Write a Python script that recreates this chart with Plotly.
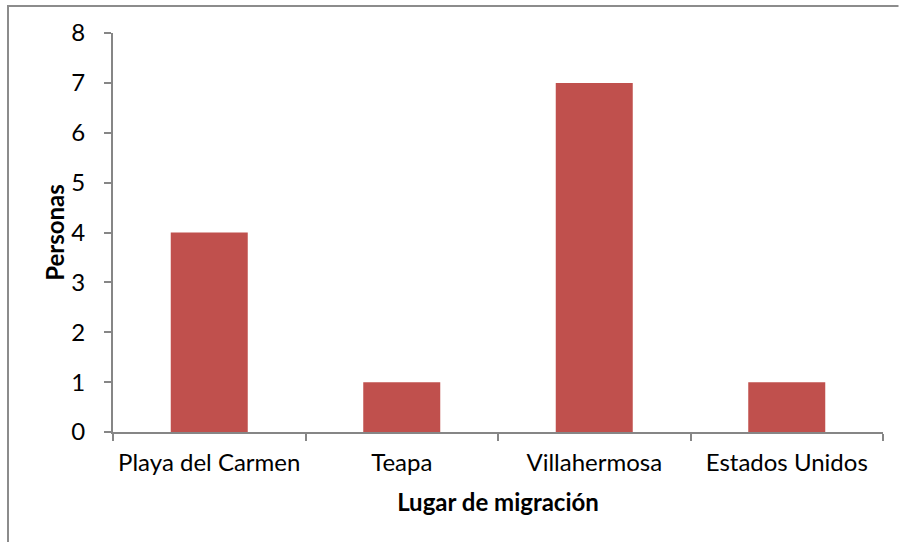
import plotly.graph_objects as go

# Migration destinations and number of people
lugares = ["Playa del Carmen", "Teapa", "Villahermosa", "Estados Unidos"]
personas = [4, 1, 7, 1]
y_ticks = [0, 1, 2, 3, 4, 5, 6, 7, 8]

W, H = 899, 542
L, R, T, B = 113, 16, 33, 110
pw, ph = W - L - R, H - T - B

def px_x(p):
    return (p - L) / pw

def px_y(p):
    return (H - B - p) / ph

axis_gray = "#868686"
frame_gray = "#8C8C8C"
font_fam = "Lato, 'Open Sans', sans-serif"

fig = go.Figure(
    go.Bar(
        x=lugares,
        y=personas,
        marker=dict(color="#C0504D", line=dict(width=0)),
        width=0.4,
    )
)

fig.update_layout(
    width=W,
    height=H,
    margin=dict(l=L, r=R, t=T, b=B),
    paper_bgcolor="white",
    plot_bgcolor="white",
    showlegend=False,
    font=dict(family=font_fam, color="black", size=24),
    shapes=[
        # chart frame: left edge
        dict(type="line", xref="paper", yref="paper",
             x0=px_x(8), x1=px_x(8), y0=px_y(6), y1=px_y(H),
             line=dict(color=frame_gray, width=2)),
        # chart frame: top edge
        dict(type="line", xref="paper", yref="paper",
             x0=px_x(7), x1=px_x(W - 0.5), y0=px_y(6), y1=px_y(6),
             line=dict(color=frame_gray, width=2)),
    ],
)

fig.update_xaxes(
    type="category",
    showline=True,
    linecolor=axis_gray,
    linewidth=2,
    showgrid=False,
    ticks="outside",
    tickson="boundaries",
    ticklen=7,
    tickwidth=2,
    tickcolor=axis_gray,
    tickfont=dict(size=24),
    ticklabelstandoff=8,
    title=dict(text="<b>Lugar de migración</b>", font=dict(size=24), standoff=19),
)

fig.update_yaxes(
    range=[0, 8],
    tickvals=y_ticks,
    showline=True,
    linecolor=axis_gray,
    linewidth=2,
    showgrid=False,
    zeroline=False,
    ticks="outside",
    ticklen=7,
    tickwidth=2,
    tickcolor=axis_gray,
    tickfont=dict(size=24),
    ticklabelstandoff=14,
    title=dict(text="<b>Personas</b>", font=dict(size=24), standoff=0),
)

fig.write_html("out.html", config={"displayModeBar": False})
